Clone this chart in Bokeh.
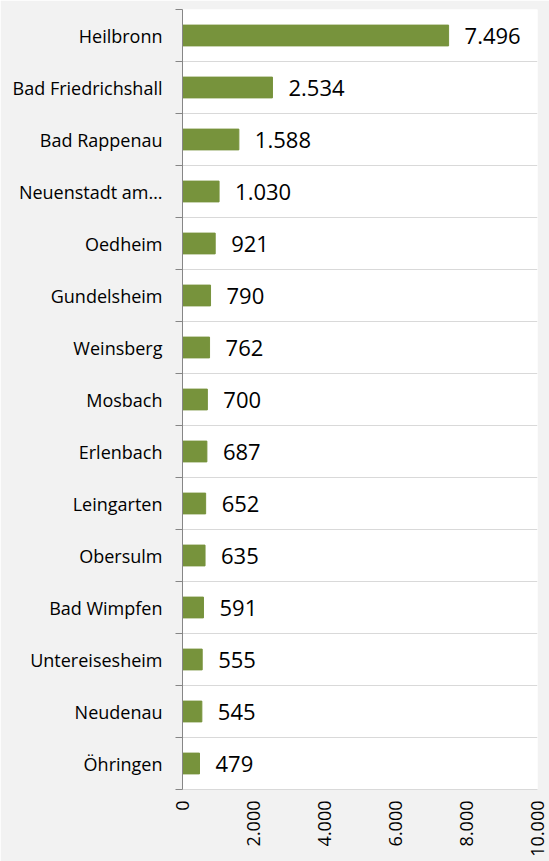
from bokeh.plotting import figure
from bokeh.models import ColumnDataSource, LabelSet, Range1d, FixedTicker
from bokeh.core.properties import value
from bokeh.embed import file_html
from bokeh.resources import INLINE

categories = ["Heilbronn", "Bad Friedrichshall", "Bad Rappenau", "Neuenstadt am…", "Oedheim",
              "Gundelsheim", "Weinsberg", "Mosbach", "Erlenbach", "Leingarten", "Obersulm",
              "Bad Wimpfen", "Untereisesheim", "Neudenau", "Öhringen"]
values = [7496, 2534, 1588, 1030, 921, 790, 762, 700, 687, 652, 635, 591, 555, 545, 479]
value_labels = ["7.496", "2.534", "1.588", "1.030", "921", "790", "762", "700", "687",
                "652", "635", "591", "555", "545", "479"]
x_ticks = [0, 2000, 4000, 6000, 8000, 10000]
x_tick_labels = ["0", "2.000", "4.000", "6.000", "8.000", "10.000"]

n = len(categories)
ypos = [n - i - 0.5 for i in range(n)]
boundaries = list(range(n + 1))

src = ColumnDataSource(dict(y=ypos, v=values, lab=value_labels))

p = figure(width=549, height=861, output_backend="svg", toolbar_location=None,
           x_range=Range1d(0, 10000), y_range=Range1d(0, n),
           min_border_top=9, min_border_right=12, min_border_left=182, min_border_bottom=72)
p.border_fill_color = "#F2F2F2"
p.background_fill_color = "#FFFFFF"
p.outline_line_color = None

p.hbar(y="y", right="v", left=0, height=0.4, source=src,
       fill_color="#77933C", line_color="#77933C")

p.add_layout(LabelSet(x="v", y="y", text="lab", source=src, x_offset=16,
                      text_baseline="middle", text_font=value("Open Sans"),
                      text_font_size="22px", text_color="#000000"))

# y axis
p.yaxis.ticker = FixedTicker(ticks=ypos, minor_ticks=boundaries)
p.yaxis.major_label_overrides = {y: c for y, c in zip(ypos, categories)}
p.yaxis.major_tick_out = 0
p.yaxis.major_tick_in = 0
p.yaxis.minor_tick_out = 7
p.yaxis.minor_tick_in = 0
p.yaxis.minor_tick_line_color = "#868686"
p.yaxis.axis_line_color = "#868686"
p.yaxis.major_label_standoff = 13
p.yaxis.major_label_text_font = "Open Sans"
p.yaxis.major_label_text_font_size = "18px"
p.yaxis.major_label_text_color = "#000000"

# x axis
p.xaxis.ticker = FixedTicker(ticks=x_ticks)
p.xaxis.major_label_overrides = {t: l for t, l in zip(x_ticks, x_tick_labels)}
p.xaxis.major_label_orientation = 3.14159265 / 2
p.xaxis.major_tick_out = 0
p.xaxis.major_tick_in = 0
p.xaxis.minor_tick_out = 0
p.xaxis.minor_tick_in = 0
p.xaxis.axis_line_color = "#D9D9D9"
p.xaxis.major_label_standoff = 11
p.xaxis.major_label_text_font = "Open Sans"
p.xaxis.major_label_text_font_size = "18px"
p.xaxis.major_label_text_color = "#000000"

p.xgrid.grid_line_color = None
p.ygrid.ticker = FixedTicker(ticks=boundaries)
p.ygrid.grid_line_color = "#D9D9D9"

open("out.html", "w").write(file_html(p, INLINE))
